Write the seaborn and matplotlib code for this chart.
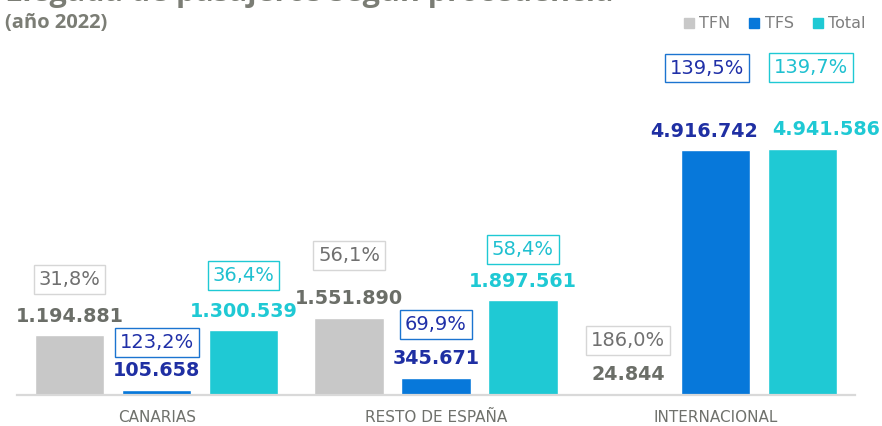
import pandas as pd
import seaborn as sns
import matplotlib.pyplot as plt
from matplotlib.lines import Line2D

# data
categories = ["CANARIAS", "RESTO DE ESPAÑA", "INTERNACIONAL"]
series = ["TFN", "TFS", "Total"]
tfn = [1194881, 1551890, 24844]
tfs = [105658, 345671, 4916742]
total = [1300539, 1897561, 4941586]
tfn_pct = [31.8, 56.1, 186.0]
tfs_pct = [123.2, 69.9, 139.5]
total_pct = [36.4, 58.4, 139.7]

bar_colors = ["#C8C8C8", "#0778DA", "#1FC9D4"]
value_colors = ["#6B6E68", "#1F2FA3", "#1FC9D4"]
pct_text_colors = ["#707070", "#2030A8", "#1FC0D0"]
pct_edge_colors = ["#D6D6D6", "#1B74D0", "#1FC9D4"]
# label placement tweaks (px): % box lift above value label, sideways shifts
pct_lift = [[37, 43, 34], [28, 34, 63], [36, 32, 62]]
value_dx = [[0, 0, 0], [0, 0, -11], [0, 0, 24]]
pct_dx = [[0, 0, 0], [0, 0, -8], [0, 0, 9]]


def fmt_num(v):
    return f"{v:,}".replace(",", ".")


def fmt_pct(p):
    return f"{p:.1f}%".replace(".", ",")


rows = []
for name, vals in zip(series, [tfn, tfs, total]):
    for cat, v in zip(categories, vals):
        rows.append({"Procedencia": cat, "Aeropuerto": name, "Pasajeros": v})
df = pd.DataFrame(rows)
pcts = [tfn_pct, tfs_pct, total_pct]

sns.set_theme(style="white")
plt.rcParams['font.family'] = ['DejaVu Sans']

W, H = 882, 426
fig = plt.figure(figsize=(W / 100, H / 100), dpi=100)
ax = fig.add_axes([17 / W, 31 / H, 838 / W, 335 / H])

sns.barplot(data=df, x="Procedencia", y="Pasajeros", hue="Aeropuerto",
            palette=bar_colors, width=0.934, gap=0.2, saturation=1,
            legend=False, ax=ax)

ax.set_xlim(-0.5, 2.5)
ax.set_ylim(0, 4916742 * 335 / 245)
ax.set_xlabel("")
ax.set_ylabel("")
ax.set_yticks([])
sns.despine(ax=ax, left=True)
ax.spines['bottom'].set_color("#D9D9D9")
ax.spines['bottom'].set_linewidth(1.6)
ax.tick_params(axis='x', length=0, pad=11, labelsize=11, labelcolor="#6F716C")

px = 0.72  # points per pixel at dpi 100
for s, cont in enumerate(ax.containers):
    for i, bar in enumerate(cont):
        x = bar.get_x() + bar.get_width() / 2
        h = bar.get_height()
        ax.annotate(fmt_num(int(round(h))), (x, h),
                    xytext=(value_dx[s][i] * px, 13.5 * px),
                    textcoords="offset points", ha="center", va="baseline",
                    fontsize=13.8, fontweight="bold", color=value_colors[s])
        ax.annotate(fmt_pct(pcts[s][i]), (x, h),
                    xytext=(pct_dx[s][i] * px, (13.5 + pct_lift[s][i]) * px),
                    textcoords="offset points", ha="center", va="baseline",
                    fontsize=14, color=pct_text_colors[s],
                    bbox=dict(boxstyle="square,pad=0.25", fc="white",
                              ec=pct_edge_colors[s], lw=1.0))

# title block, partly cut off at the top like the reference
fig.text(5 / W, 1 - 1 / H, "Llegada de pasajeros según procedencia",
         ha="left", va="baseline", fontsize=22, fontweight="bold",
         color="#7B7D75", family="Open Sans")
fig.text(5 / W, 1 - 28 / H, "(año 2022)", ha="left", va="baseline",
         fontsize=14.5, fontweight="bold", color="#7B7D75", family="Open Sans")

handles = [Line2D([], [], marker="s", linestyle="", markersize=7,
                  markerfacecolor=c, markeredgecolor=c) for c in bar_colors]
fig.legend(handles, series, loc="upper right", bbox_to_anchor=(880 / W, 1 - 2 / H),
           ncol=3, frameon=False, fontsize=11.5, handletextpad=0.15,
           columnspacing=1.0, handlelength=1.0, labelcolor="#7F7F7F")

fig.savefig("out.png", dpi=100)
